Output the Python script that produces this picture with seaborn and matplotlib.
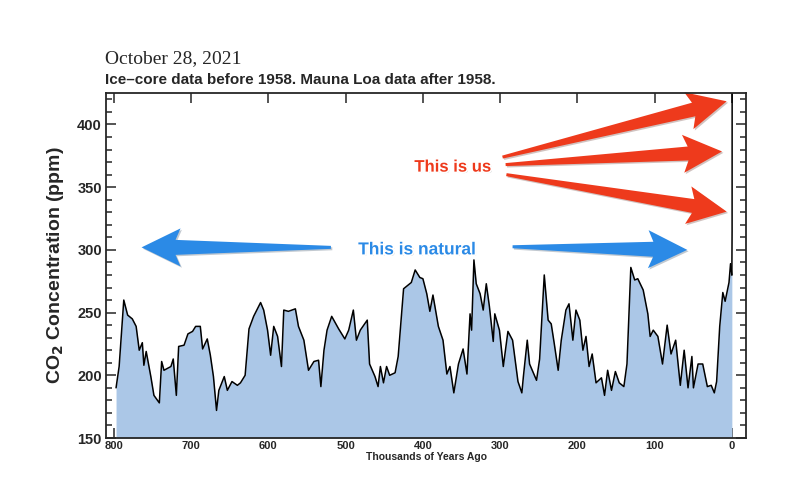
import numpy as np
import pandas as pd
import seaborn as sns
import matplotlib.pyplot as plt
import matplotlib.patheffects as pe
from matplotlib.patches import Polygon
from matplotlib.transforms import IdentityTransform
from matplotlib.ticker import MultipleLocator

# ice core record (thousands of years ago, ppm)
ice_kyr = [797, 793, 787, 782, 776, 771, 767, 763, 761, 758,
           752, 748, 741, 738, 735, 726, 723, 719, 716, 709,
           704, 698, 694, 688, 685, 679, 675, 671, 667, 664,
           657, 653, 647, 640, 636, 630, 625, 619, 610, 606,
           601, 597, 593, 588, 583, 580, 574, 565, 561, 554,
           548, 541, 535, 532, 528, 524, 518, 509, 501, 496,
           490, 486, 481, 472, 469, 462, 458, 455, 451, 447,
           443, 436, 432, 425, 419, 415, 410, 404, 400, 395,
           391, 387, 380, 374, 369, 365, 360, 354, 348, 343,
           339, 337, 334, 331, 326, 322, 318, 314, 309, 307,
           301, 296, 290, 284, 277, 272, 270, 265, 262, 253,
           249, 243, 238, 234, 230, 225, 221, 215, 211, 206,
           202, 197, 193, 189, 185, 181, 176, 169, 165, 161,
           156, 151, 146, 140, 136, 131, 126, 122, 115, 109,
           106, 102, 96, 90, 84, 79, 73, 67, 62, 57,
           52, 50, 44, 38, 32, 27, 23, 20, 16, 12,
           9, 4, 2, 0.3]
ice_ppm = [190, 207, 260, 248, 245, 239, 220, 226, 208, 219,
           199, 184, 178, 211, 204, 207, 213, 184, 223, 224,
           233, 235, 239, 239, 221, 229, 216, 199, 172, 188,
           199, 188, 195, 192, 194, 200, 237, 247, 258, 252,
           236, 216, 239, 231, 207, 252, 251, 253, 239, 228,
           204, 211, 212, 191, 220, 236, 247, 237, 229, 236,
           252, 228, 236, 244, 209, 199, 191, 207, 194, 207,
           200, 202, 215, 269, 272, 274, 284, 278, 277, 265,
           251, 264, 239, 228, 201, 207, 186, 209, 221, 201,
           249, 236, 292, 273, 265, 252, 273, 255, 227, 249,
           236, 207, 235, 228, 195, 186, 199, 228, 209, 196,
           213, 280, 244, 241, 225, 204, 228, 252, 257, 228,
           252, 244, 220, 231, 207, 217, 194, 198, 184, 204,
           188, 203, 194, 191, 209, 286, 276, 277, 268, 249,
           231, 236, 231, 209, 240, 217, 228, 192, 220, 190,
           215, 190, 209, 209, 191, 192, 186, 195, 239, 266,
           259, 274, 289, 280]

# Mauna Loa era (1958 -> 2021)
modern_kyr = [0.3, -0.008, -0.071]
modern_ppm = [280, 315, 426]

x_ticks = [800, 700, 600, 500, 400, 300, 200, 100, 0]
y_ticks = [150, 200, 250, 300, 350, 400]

df_ice = pd.DataFrame({'kyr': ice_kyr, 'ppm': ice_ppm})
df_modern = pd.DataFrame({'kyr': modern_kyr, 'ppm': modern_ppm})

sns.set_theme(style='ticks')
plt.rcParams['font.family'] = ['Liberation Sans', 'DejaVu Sans']

fig = plt.figure(figsize=(8, 4.8), dpi=100)
ax = fig.add_axes([0.1325, 0.0875, 0.8, 0.7185])

ax.fill_between(df_ice['kyr'], 150, df_ice['ppm'], color='#abc7e7', lw=0)
sns.lineplot(data=df_ice, x='kyr', y='ppm', ax=ax, color='black', lw=1.1,
             sort=False)
sns.lineplot(data=df_modern, x='kyr', y='ppm', ax=ax, color='black', lw=1.1,
             sort=False)

ax.set_xlim(810, -18)
ax.set_ylim(150, 425)
ax.set_xticks(x_ticks)
ax.set_yticks(y_ticks)
ax.yaxis.set_minor_locator(MultipleLocator(10))
ax.tick_params(which='both', direction='in', top=True, right=True, width=1.1)
ax.tick_params(which='major', length=7)
ax.tick_params(which='minor', length=4)
ax.tick_params(axis='y', labelsize=10.5, pad=3)
ax.tick_params(axis='x', labelsize=8, pad=2)
for lab in ax.get_xticklabels() + ax.get_yticklabels():
    lab.set_fontweight('bold')
for s in ax.spines.values():
    s.set_linewidth(1.3)
    s.set_visible(True)

ax.set_xlabel('Thousands of Years Ago', fontsize=7.5, fontweight='bold',
              labelpad=1)
ax.set_ylabel('CO$_\\mathbf{2}$ Concentration (ppm)', fontsize=14,
              fontweight='bold', labelpad=8)

fig.text(0.131, 0.868, 'October 28, 2021', fontsize=14,
         family=['Liberation Serif', 'DejaVu Serif'], va='baseline')
fig.text(0.131, 0.825, 'Ice\u2013core data before 1958. Mauna Loa data after 1958.',
         fontsize=11, fontweight='bold', va='baseline')

shadow = [pe.withSimplePatchShadow(offset=(1, -1), shadow_rgbFace='#888888', alpha=0.5),
          pe.withStroke(linewidth=2.5, foreground='white')]


def tapered_arrow(tail, tip, color, w0=3, w1=14, hw=38, hl=36, notch=5):
    # arrow that widens from a thin tail to the head, sized in pixels
    p0 = ax.transData.transform(tail)
    p1 = ax.transData.transform(tip)
    d = p1 - p0
    u = d / np.hypot(*d)
    n = np.array([-u[1], u[0]])
    base = p1 - u * hl
    barb = base - u * notch
    pts = [p0 + n * w0 / 2, base + n * w1 / 2, barb + n * hw / 2, p1,
           barb - n * hw / 2, base - n * w1 / 2, p0 - n * w0 / 2]
    poly = Polygon(pts, closed=True, fc=color, ec='none',
                   transform=IdentityTransform(), clip_on=False,
                   path_effects=[pe.SimplePatchShadow(offset=(1, -1), alpha=0.25),
                                 pe.Normal()])
    ax.add_patch(poly)


red = '#ee3a1c'
blue = '#2b8ae6'
ax.text(362, 366, 'This is us', color=red, fontsize=12, fontweight='bold',
        ha='center', va='center', path_effects=shadow)
ax.text(407, 300, 'This is natural', color=blue, fontsize=12.5,
        fontweight='bold', ha='center', va='center', path_effects=shadow)

for tail, tip in [((297, 374), (7, 418.5)),
                  ((293, 368), (13, 378.5)),
                  ((292, 360), (7, 330.5))]:
    tapered_arrow(tail, tip, red, w0=3, w1=14, hw=38, hl=34)

for tail, tip in [((519, 302), (764, 302)),
                  ((284, 302.5), (58, 300))]:
    tapered_arrow(tail, tip, blue, w0=3, w1=15, hw=38, hl=34)

fig.savefig('out.png', dpi=100)
